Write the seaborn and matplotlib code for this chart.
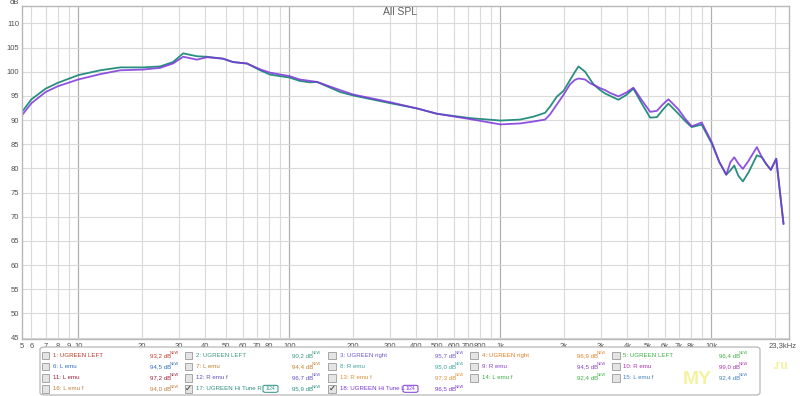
import numpy as np
import pandas as pd
import matplotlib
matplotlib.use("Agg")
import matplotlib.pyplot as plt
from matplotlib.patches import Rectangle, FancyBboxPatch
import seaborn as sns

# ---------------- data ----------------
freq_hz = [5.41, 6.0, 7.0, 8.0, 10.0, 12.7, 15.8, 20.3, 24.4, 28.1, 31.4, 36.5, 40.7,
           48.5, 54.1, 63.0, 72.7, 81.1, 100, 112, 125, 135, 174, 200, 300, 403, 501,
           719, 1000, 1240, 1433, 1628, 1720, 1850, 1989, 2138, 2250, 2344, 2519, 2662,
           2760, 2968, 3133, 3311, 3623, 3950, 4266, 4677, 5123, 5510, 5900, 6252, 6976,
           7500, 8060, 8990, 10040, 10900, 11750, 12300, 12820, 13400, 14090, 15000,
           16410, 17340, 18100, 19110, 20270, 21950]
spl_hitune_r = [91.7, 94.3, 96.5, 97.7, 99.3, 100.3, 100.9, 100.9, 101.1, 102.0, 103.8, 103.2, 103.1,
                102.7, 102.0, 101.7, 100.3, 99.4, 98.8, 98.1, 97.8, 97.9, 95.8, 95.1, 93.5, 92.4, 91.3,
                90.4, 89.9, 90.1, 90.7, 91.5, 92.8, 94.85, 96.0, 98.3, 99.9, 101.1, 100.0, 98.4,
                97.4, 96.2, 95.5, 95.0, 94.2, 95.2, 96.5, 93.4, 90.5, 90.6, 92.2, 93.4, 91.3,
                89.8, 88.55, 89.05, 85.1, 81.3, 78.7, 79.6, 80.6, 78.5, 77.3, 79.2,
                82.7, 82.3, 81.0, 79.7, 82.0, 68.5]
spl_hitune_l = [91.0, 93.5, 95.8, 97.0, 98.4, 99.5, 100.3, 100.45, 100.8, 101.7, 103.1, 102.5, 103.0,
                102.7, 102.0, 101.7, 100.5, 99.8, 99.1, 98.4, 98.1, 97.9, 96.2, 95.3, 93.7, 92.4, 91.3,
                90.2, 89.1, 89.3, 89.7, 90.1, 91.2, 93.2, 95.2, 97.4, 98.3, 98.6, 98.4, 97.6,
                97.3, 96.6, 96.2, 95.6, 94.9, 95.7, 96.7, 94.1, 91.7, 91.9, 93.3, 94.3, 92.2,
                90.3, 88.7, 89.5, 85.4, 81.3, 78.7, 81.3, 82.3, 81.0, 79.9, 81.6,
                84.4, 82.3, 81.0, 79.7, 82.0, 68.5]
series_names = ["17: UGREEN Hi Tune R", "18: UGREEN Hi Tune L"]
series_colors = ["#2a8f80", "#7b34dc"]

y_ticks = [45, 50, 55, 60, 65, 70, 75, 80, 85, 90, 95, 100, 105, 110]
x_tick_vals = [6, 7, 8, 9, 10, 20, 30, 40, 50, 60, 70, 80, 100, 200, 300, 400, 500,
               600, 700, 800, 1000, 2000, 3000, 4000, 5000, 6000, 7000, 8000, 10000]
x_tick_labels = ["6", "7", "8", "9", "10", "20", "30", "40", "50", "60", "70", "80", "100",
                 "200", "300", "400", "500", "600", "700", "800", "1k", "2k", "3k", "4k",
                 "5k", "6k", "7k", "8k", "10k"]

legend_labels = [
    ["1: UGREEN LEFT", "2: UGREEN LEFT", "3: UGREEN right", "4: UGREEN right", "5: UGREEN LEFT"],
    ["6: L emu", "7: L emu", "8: R emu", "9: R emu", "10: R emu"],
    ["11: L emu", "12: R emu f", "13: R emu f", "14: L emu f", "15: L emu f"],
    ["16: L emu f", "17: UGREEN Hi Tune R", "18: UGREEN Hi Tune L", None, None],
]
legend_values = [
    ["93,2", "90,2", "95,7", "96,9", "96,4"],
    ["94,5", "94,4", "95,0", "94,5", "99,0"],
    ["97,2", "96,7", "97,3", "92,4", "92,4"],
    ["94,0", "95,9", "96,5", None, None],
]
legend_colors = [
    ["#c0392b", "#3a9a7a", "#6a5acd", "#e67e22", "#3cb043"],
    ["#2f6fc0", "#c08030", "#3aa0a0", "#8a3fc8", "#b030b0"],
    ["#a0203a", "#6050c0", "#e09030", "#3cb043", "#4080c0"],
    ["#c08040", "#2a8f80", "#7b34dc", None, None],
]
legend_checked = [
    [False] * 5, [False] * 5, [False] * 5,
    [False, True, True, False, False],
]

# ---------------- figure ----------------
sns.set_theme(style="white")
plt.rcParams["font.family"] = ["Liberation Sans", "DejaVu Sans"]

W, H = 800, 396
fig = plt.figure(figsize=(W / 100, H / 100), dpi=100)
fig.patch.set_facecolor("white")

L, R, T, B = 22, 789, 6, 339
ax = fig.add_axes([L / W, 1 - B / H, (R - L) / W, (B - T) / H])
ax.set_facecolor("white")

df = pd.DataFrame({
    "freq": freq_hz * 2,
    "spl": spl_hitune_r + spl_hitune_l,
    "series": [series_names[0]] * len(freq_hz) + [series_names[1]] * len(freq_hz),
})
ax.set_xscale("log")
sns.lineplot(data=df, x="freq", y="spl", hue="series", palette=series_colors,
             estimator=None, sort=False, legend=False, linewidth=1.3, ax=ax)
ax.lines[1].set_alpha(0.85)
for ln in ax.lines:
    ln.set_solid_joinstyle("round")

ax.set_xlim(5.41, 23300)
ax.set_ylim(44.7, 113.6)

# grid
for f in [6, 7, 8, 9, 20, 30, 40, 50, 60, 70, 80, 90, 200, 300, 400, 500, 600, 700, 800, 900,
          2000, 3000, 4000, 5000, 6000, 7000, 8000, 9000, 20000]:
    ax.axvline(f, color="#dadada", lw=0.8, zorder=0)
for f in [10, 100, 1000, 10000]:
    ax.axvline(f, color="#b0b0b0", lw=0.9, zorder=0)
for yv in y_ticks:
    ax.axhline(yv, color="#dadada", lw=0.8, zorder=0)

for s in ax.spines.values():
    s.set_color("#b8b8b8")
    s.set_linewidth(1.0)

ax.set_xticks([5.41] + x_tick_vals)
ax.set_xticklabels(["5"] + x_tick_labels)
ax.minorticks_off()
ax.set_xticks([], minor=True)
ax.set_yticks(y_ticks)
ax.set_yticklabels([str(v) for v in y_ticks])
ax.tick_params(axis="both", length=0, labelsize=5.5, colors="#505050")
ax.tick_params(axis="x", pad=3)
ax.tick_params(axis="y", pad=2)
ax.set_xlabel("")
ax.set_ylabel("")

fig.text(797 / W, 1 - 345.5 / H, "23,3kHz", fontsize=5.5, color="#505050", ha="right", va="center")
fig.text(14 / W, 1 - 3 / H, "dB", fontsize=5.5, color="#505050", ha="center", va="center")
fig.text(400 / W, 1 - 12 / H, "All SPL", fontsize=7.5, color="#606060", ha="center", va="center")

# ---------------- legend panel ----------------
def fx(x):
    return x / W

def fy(y):
    return 1 - y / H

panel = FancyBboxPatch((fx(40), fy(395)), fx(760) - fx(40), fy(347) - fy(395),
                       boxstyle="round,pad=0,rounding_size=0.006",
                       transform=fig.transFigure, facecolor="white",
                       edgecolor="#b8b8b8", lw=0.9)
fig.patches.append(panel)

row_y = [355.3, 366.6, 377.7, 388.8]
box_x = [45.5, 188.5, 332, 474, 616]
label_x = [53, 196, 340, 482, 623]
value_x = [150, 292, 435, 577, 719]

for r in range(4):
    for c in range(5):
        lab = legend_labels[r][c]
        if lab is None:
            continue
        yy = row_y[r]
        bx = box_x[c]
        cb = Rectangle((fx(bx - 3.8), fy(yy + 3.8)), 7.6 / W, 7.6 / H,
                       transform=fig.transFigure, facecolor="#e4e4e4",
                       edgecolor="#9a9a9a", lw=0.6)
        fig.patches.append(cb)
        if legend_checked[r][c]:
            fig.text(fx(bx), fy(yy), "\u2713", fontsize=6, color="#202020",
                     ha="center", va="center", family=["DejaVu Sans"])
        col = legend_colors[r][c]
        fig.text(fx(label_x[c]), fy(yy), lab, fontsize=4.4, color=col,
                 ha="left", va="center")
        fig.text(fx(value_x[c]), fy(yy), legend_values[r][c] + " dB",
                 fontsize=4.4, color=col, ha="left", va="center")
        fig.text(fx(value_x[c] + 20), fy(yy - 2.2), "NEW", fontsize=2.8,
                 color=col, ha="left", va="center")
        if legend_checked[r][c]:
            ix = label_x[c] + 67 if c == 1 else label_x[c] + 63
            icon = FancyBboxPatch((fx(ix), fy(yy + 3.5)), 15 / W, 7 / H,
                                  boxstyle="round,pad=0,rounding_size=0.003",
                                  transform=fig.transFigure, facecolor="white",
                                  edgecolor=col, lw=0.7)
            fig.patches.append(icon)
            fig.text(fx(ix + 7.5), fy(yy), "1/24", fontsize=3.6, color=col,
                     ha="center", va="center")

# watermark
fig.text(fx(697), fy(380), "MY", fontsize=14, color="#f2ef8a", alpha=0.8,
         ha="center", va="center", fontweight="bold")
fig.text(fx(780), fy(366), ".ru", fontsize=9, color="#f2ef8a", alpha=0.8,
         ha="center", va="center", fontweight="bold")

fig.savefig("out.png", dpi=100, facecolor="white")
